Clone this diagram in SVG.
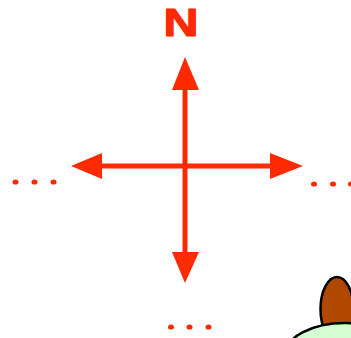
<svg xmlns="http://www.w3.org/2000/svg" width="351" height="338" viewBox="0 0 351 338">
  <style>
    .axis { stroke: #ff2a00; stroke-width: 5; fill: none; }
    .head { fill: #ff2a00; }
    .dot { fill: #ff2a00; }
    .label { font-family: "Liberation Sans", Arial, sans-serif; font-weight: bold; font-size: 39px; fill: #ff2a00; stroke: #ff2a00; stroke-width: 1.2; stroke-linejoin: round; }
    .outline { stroke: #000; stroke-width: 2.5; }
  </style>
  <rect width="351" height="338" fill="#fff"/>

  <g id="north-label">
    <text class="label" x="181" y="36" text-anchor="middle" textLength="35" lengthAdjust="spacingAndGlyphs">N</text>
  </g>

  <g id="connectors">
    <line class="axis" x1="185" y1="88" x2="185" y2="254"/>
    <line class="axis" x1="100" y1="166" x2="272" y2="166"/>
    <polygon class="head" points="185,57 172,90 199,90"/>
    <polygon class="head" points="185,283 172,252 199,252"/>
    <polygon class="head" points="71,166 102,153 102,179"/>
    <polygon class="head" points="303,166 270,153 270,179"/>
  </g>

  <g id="west-dots">
    <ellipse class="dot" cx="15.5" cy="182" rx="3" ry="2.6"/>
    <ellipse class="dot" cx="34.5" cy="182" rx="3" ry="2.6"/>
    <ellipse class="dot" cx="53.5" cy="182" rx="3" ry="2.6"/>
  </g>
  <g id="east-dots">
    <ellipse class="dot" cx="314" cy="184" rx="3" ry="2.6"/>
    <ellipse class="dot" cx="333" cy="184" rx="3" ry="2.6"/>
    <ellipse class="dot" cx="351" cy="184" rx="3" ry="2.6"/>
  </g>
  <g id="south-dots">
    <ellipse class="dot" cx="171" cy="327" rx="3" ry="2.6"/>
    <ellipse class="dot" cx="189.5" cy="327" rx="3" ry="2.6"/>
    <ellipse class="dot" cx="208.5" cy="327" rx="3" ry="2.6"/>
  </g>

  <g id="figure">
    <ellipse class="outline" cx="337" cy="309" rx="16.5" ry="32" fill="#b04800"/>
    <ellipse class="outline" cx="345" cy="355" rx="60" ry="32" fill="#d4ffd4"/>
  </g>
</svg>
